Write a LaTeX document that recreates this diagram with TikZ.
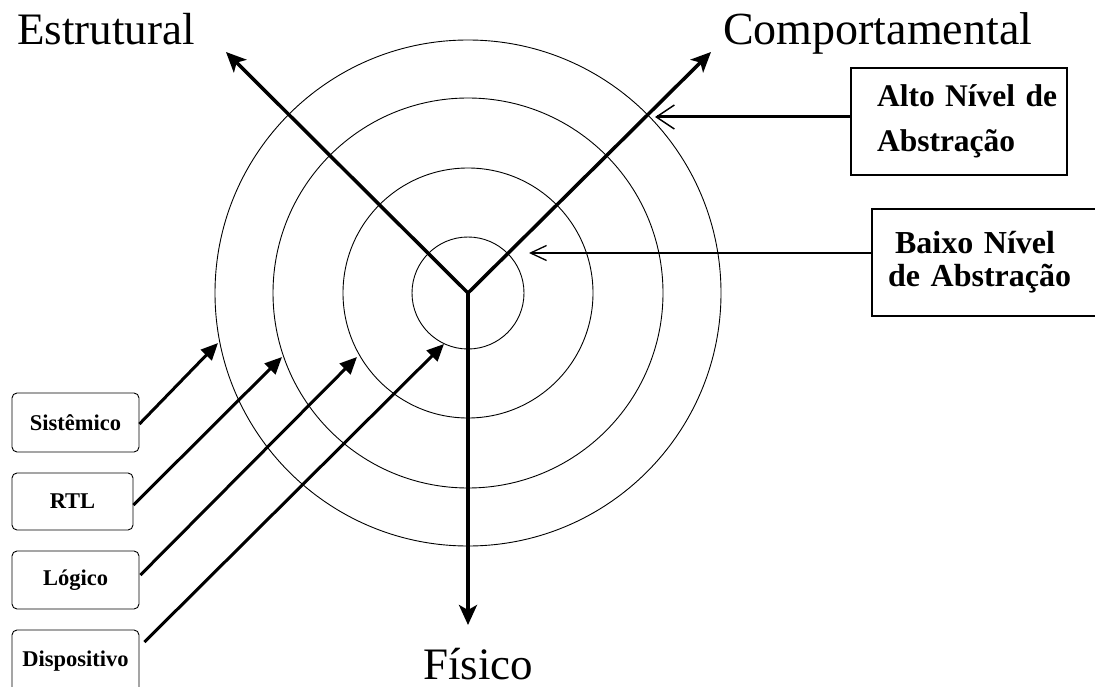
\documentclass[tikz,border=0pt]{standalone}
\usepackage{fontspec}
\setmainfont{Liberation Serif}
\usetikzlibrary{arrows.meta,calc}
\begin{document}
\begin{tikzpicture}[x=1pt,y=-1pt,
  ring/.style={line width=0.9pt},
  axis/.style={line width=3.5pt, -{Stealth[length=20pt,width=18pt,inset=5pt]}},
  levarrow/.style={line width=3pt, -{Triangle[length=17pt,width=15pt]}},
  lbox/.style={draw, line width=0.9pt, rounded corners=5pt, inner sep=0pt,
    font=\fontsize{22.5}{26}\selectfont\bfseries},
  rbox/.style={draw, line width=1.2pt, inner ysep=0pt, align=left},
  biglabel/.style={font=\fontsize{45}{50}\selectfont, inner sep=0pt, anchor=base west, text depth=0pt}
]
\useasboundingbox (0,0) rectangle (1095,687);
\fill[white] (0,0) rectangle (1095,687);

% center and axis tips
\coordinate (O) at (468,293);
\coordinate (Etip) at (226,52);
\coordinate (Ctip) at (711,52);
\coordinate (Ftip) at (468,625);

% rings
\draw[ring] (O) circle (56pt);
\draw[ring] (O) circle (125pt);
\draw[ring] (O) circle (195pt);
\draw[ring] (O) circle (253pt);

% axes
\draw[axis] (O) -- (Etip);
\draw[axis] (O) -- (Ctip);
\draw[axis] (O) -- (Ftip);

% axis labels
\node[biglabel] (estr) at (17,45) {Estrutural};
\node[biglabel, font=\fontsize{46}{50}\selectfont] (comp) at (723,45) {Comportamental};
\node[biglabel] (fis) at (423,679) {Físico};

% abstraction boxes
\node[rbox, inner xsep=26pt, text width=164pt, minimum width=216pt, minimum height=107pt,
      font=\fontsize{31.5}{45}\selectfont\bfseries] (alto) at (959,121.5)
      {\mbox{Alto Nível de}\\Abstração};
\node[rbox, inner xsep=16pt, text width=208pt, minimum width=240pt, minimum height=107pt,
      font=\fontsize{32}{33}\selectfont\bfseries] (baixo) at (992,262.5)
      {\hspace*{7pt}Baixo Nível\\de Abstração};

\coordinate (altotip) at (655,117);
\coordinate (baixotip) at (529,253);
\draw[line width=3pt, -{Straight Barb[length=18pt,width=24pt,line width=1.5pt]}]
  ([yshift=4.5pt]alto.west) -- (altotip);
\draw[line width=2pt, -{Straight Barb[length=16pt,width=15pt,line width=1.3pt]}]
  ([yshift=9.5pt]baixo.west) -- (baixotip);

% level boxes
\node[lbox, minimum width=127pt, minimum height=59pt] (sis) at (75.5,422.5) {Sistêmico};
\node[lbox, minimum width=121pt, minimum height=57pt] (rtl) at (72.5,501.5) {RTL};
\node[lbox, minimum width=127pt, minimum height=58pt] (log) at (75.5,580) {Lógico};
\node[lbox, minimum width=127pt, minimum height=62pt] (dis) at (75.5,661) {Dispositivo};

\coordinate (sistip) at (218,343);
\coordinate (rtltip) at (282,357);
\coordinate (logtip) at (357,357);
\coordinate (distip) at (444,344);

\draw[levarrow] ([yshift=-1.5pt]sis.east) -- (sistip);
\draw[levarrow] ([yshift=-3.5pt]rtl.east) -- (rtltip);
\draw[levarrow] ([xshift=1pt,yshift=5pt]log.east) -- (logtip);
\draw[levarrow] ([xshift=5pt,yshift=19pt]dis.east) -- (distip);
\end{tikzpicture}
\end{document}
